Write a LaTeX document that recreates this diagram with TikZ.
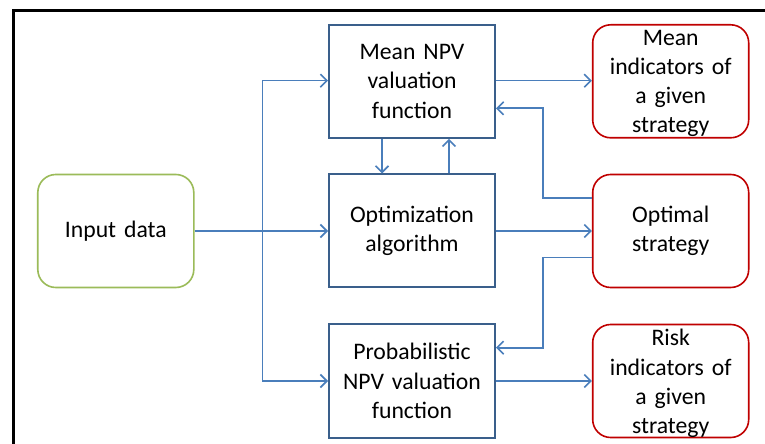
\documentclass[tikz,border=0pt]{standalone}
\usepackage{fontspec}
\setmainfont[WordSpace=0.55]{Carlito}
\usetikzlibrary{arrows.meta}
\definecolor{boxblue}{HTML}{3A5F8B}
\definecolor{arrblue}{HTML}{4A7EBB}
\definecolor{boxred}{HTML}{C00000}
\definecolor{boxgreen}{HTML}{9BBB59}
\begin{document}
\begin{tikzpicture}[x=1bp,y=-1bp,
  every node/.style={font=\fontsize{23.8}{29.3}\selectfont, align=center, inner sep=0pt},
  bluebox/.style={draw=boxblue, line width=2bp, minimum width=166bp, minimum height=113bp, text width=160bp},
  redbox/.style={draw=boxred, line width=1.6bp, rounded corners=18bp, minimum width=156bp, minimum height=113bp, text width=150bp},
  greenbox/.style={draw=boxgreen, line width=1.6bp, rounded corners=18bp, minimum width=156bp, minimum height=113bp, text width=150bp},
  arr/.style={draw=arrblue, line width=1.6bp, -{Straight Barb[length=6.5bp,width=13bp]}},
  lbl/.style={text width=150bp}]
\useasboundingbox (0,0) rectangle (765,444);
\fill[white] (0,0) rectangle (765,444);
\draw[black, line width=2.5bp] (13.7,480) -- (13.7,10.7) -- (800,10.7);

\node[greenbox] (inp) at (115.8,231) {Input data};
\node[bluebox] (mean) at (412,81.3) {Mean NPV\\valuation\\function};
\node[bluebox] (opt) at (412,231) {Optimization\\algorithm};
\node[bluebox] (prob) at (412,381) {Probabilistic\\NPV valuation\\function};
\node[redbox] (mi) at (670.7,81.3) {};
\node[redbox] (os) at (670.7,231) {Optimal\\strategy};
\node[redbox] (ri) at (670.7,381) {};
\node[lbl] (mit) at (670.7,83.5) {Mean\\indicators of\\a given\\strategy};
\node[lbl] (rit) at (670.7,383.5) {Risk\\indicators of\\a given\\strategy};

\coordinate (j) at (262.4,231);
\coordinate (k1) at (543,108.3);
\coordinate (k2) at (543,347.7);

\draw[arr] (inp.east) -- (opt.west);
\draw[arr] (j) |- (mean.west |- 0,80.7);
\draw[arr] (j) |- (prob.west);
\draw[arr] (mean.east |- 0,80.7) -- (mi.west |- 0,80.7);
\draw[arr] (opt.east) -- (os.west);
\draw[arr] (prob.east) -- (ri.west);
\draw[arr] (os.west |- 0,198.3) -| (k1) -- (mean.east |- k1);
\draw[arr] (os.west |- 0,257.7) -| (k2) -- (prob.east |- k2);
\draw[arr] (mean.south -| 382,0) -- (opt.north -| 382,0);
\draw[arr] (opt.north -| 449,0) -- (mean.south -| 449,0);
\end{tikzpicture}
\end{document}
